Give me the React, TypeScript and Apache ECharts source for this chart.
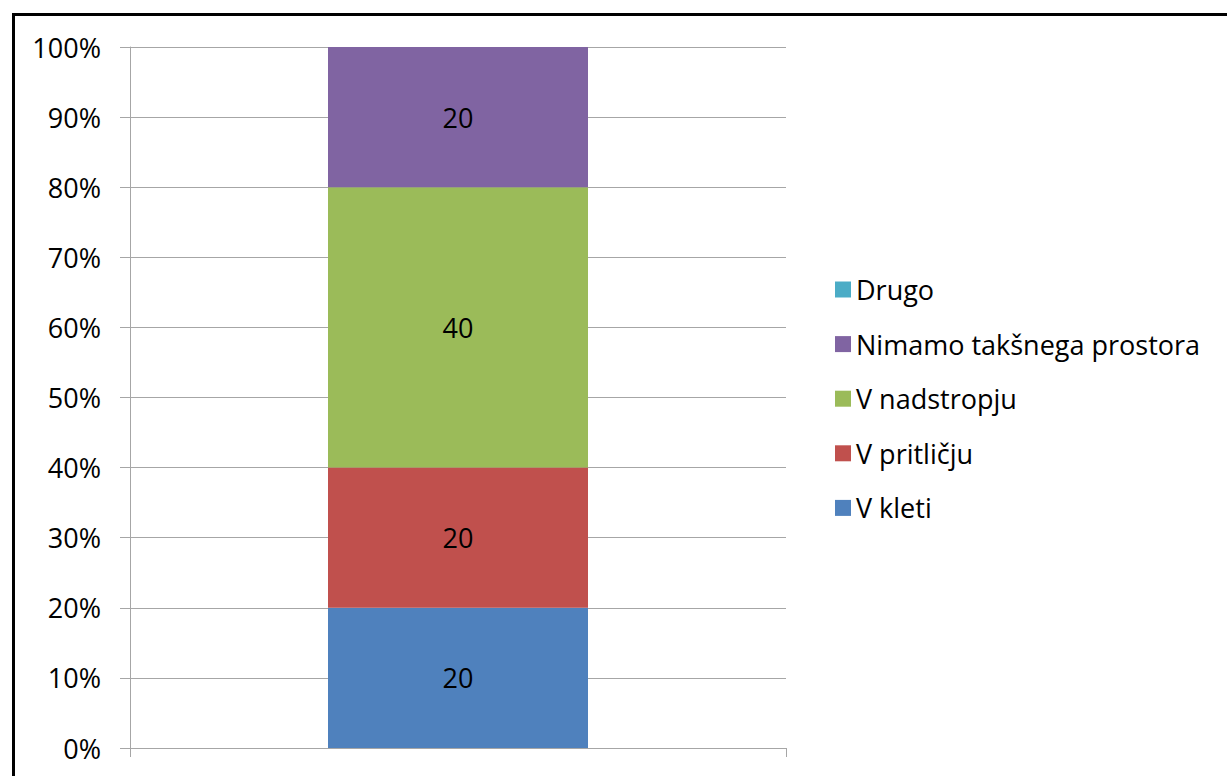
import React, { useEffect, useRef } from "react";
import * as echarts from "echarts";

const categories = [""];
const seriesNames = ["V kleti", "V pritličju", "V nadstropju", "Nimamo takšnega prostora", "Drugo"];
const seriesValues = [[20], [20], [40], [20], [0]];
const seriesColors = ["#4F81BD", "#C0504D", "#9BBB59", "#8064A2", "#4BACC6"];
const legendOrder = ["Drugo", "Nimamo takšnega prostora", "V nadstropju", "V pritličju", "V kleti"];

const FONT = "'Open Sans', 'Noto Sans', sans-serif";
const FS = 27;

export default function App() {
  const ref = useRef<HTMLDivElement>(null);
  useEffect(() => {
    document.body.style.margin = "0";
    const chart = echarts.init(ref.current!, null, { renderer: "svg" });
    chart.setOption({
      animation: false,
      backgroundColor: "#ffffff",
      textStyle: { fontFamily: FONT },
      graphic: [
        {
          type: "rect",
          shape: { x: 13.5, y: 14.5, width: 1400, height: 900 },
          style: { fill: "none", stroke: "#000", lineWidth: 3 },
          z: 100,
        },
      ],
      grid: { left: 130, right: 441, top: 47, bottom: 28, containLabel: false },
      legend: {
        orient: "vertical",
        left: 830,
        top: 271,
        itemWidth: 16,
        itemHeight: 16,
        itemGap: 27.6,
        icon: "rect",
        data: legendOrder,
        textStyle: { fontSize: FS, color: "#000", fontFamily: FONT },
      },
      xAxis: {
        type: "category",
        data: categories,
        axisLine: { lineStyle: { color: "#A6A6A6", width: 1 } },
        axisTick: { show: true, length: 9, alignWithLabel: false, lineStyle: { color: "#A6A6A6" } },
        axisLabel: { show: false },
      },
      yAxis: {
        type: "value",
        min: 0,
        max: 100,
        interval: 10,
        axisLine: { show: true, lineStyle: { color: "#A6A6A6" } },
        axisTick: { show: true, length: 10, inside: false, lineStyle: { color: "#A6A6A6" } },
        splitLine: { lineStyle: { color: "#A6A6A6" } },
        axisLabel: { formatter: "{value}%", fontSize: FS, color: "#000", margin: 29, fontFamily: FONT },
      },
      series: seriesNames.map((name, i) => ({
        name,
        type: "bar",
        stack: "total",
        data: seriesValues[i],
        barWidth: 260,
        itemStyle: { color: seriesColors[i] },
        label: {
          show: seriesValues[i][0] > 0,
          position: "inside",
          color: "#000",
          fontSize: FS,
          fontFamily: FONT,
        },
      })),
    });
    return () => chart.dispose();
  }, []);
  return <div ref={ref} style={{ width: 1227, height: 776 }} />;
}
